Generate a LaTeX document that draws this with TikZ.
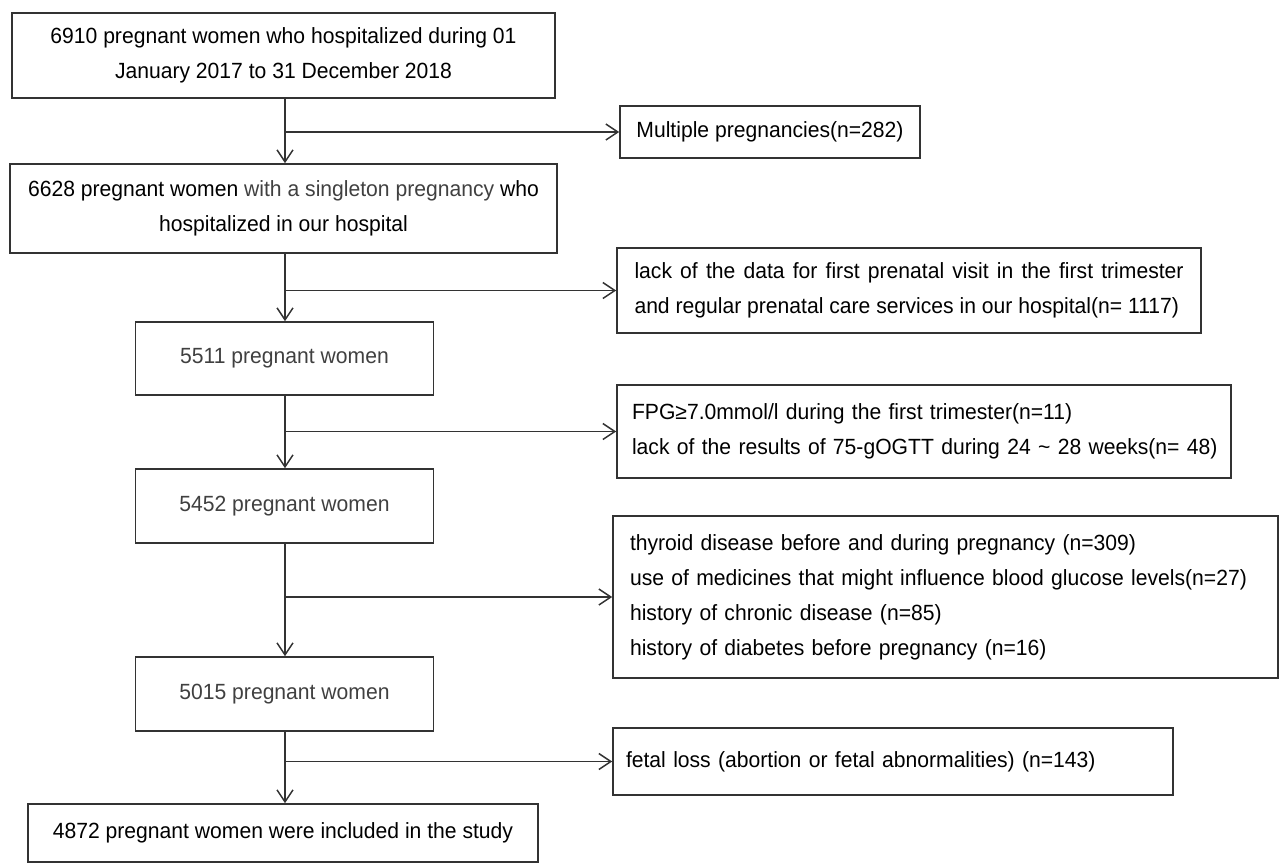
\documentclass[tikz,border=0pt]{standalone}
\usepackage{fontspec}
\setmainfont[FakeStretch=0.96]{Liberation Sans}
\usetikzlibrary{arrows.meta}
\definecolor{ln}{HTML}{333333}
\definecolor{gt}{HTML}{404040}
\tikzset{
  box/.style={draw=ln, line width=1.6pt, rectangle, inner sep=0pt, font=\fontsize{22}{35}\selectfont, text=black},
  cbox/.style={box, align=center},
  lbox/.style={box, align=left},
  arr/.style={draw=ln, line width=1.5pt, -{Straight Barb[length=12pt,width=16pt,line width=1.5pt]}},
}
\begin{document}
\begin{tikzpicture}[x=1pt,y=-1pt]
\useasboundingbox (0,0) rectangle (1279,863);
\coordinate (sp) at (285,0);
% main column
\node[cbox, minimum width=543pt, minimum height=85pt] (b1) at (283.5,55.5)
  {6910 pregnant women who hospitalized during 01\\January 2017 to 31 December 2018};
\node[cbox, minimum width=547pt, minimum height=89pt] (b2) at (283.5,208.5)
  {6628 pregnant women {\color{gt}with a singleton pregnancy} who\\hospitalized in our hospital};
\node[cbox, minimum width=298pt, minimum height=73pt, text=gt] (b3) at (284.5,358.5) {5511 pregnant women};
\node[cbox, minimum width=298pt, minimum height=74pt, text=gt] (b4) at (284.5,506) {5452 pregnant women};
\node[cbox, minimum width=298pt, minimum height=74pt, text=gt] (b5) at (284.5,694) {5015 pregnant women};
\node[cbox, minimum width=510pt, minimum height=58pt] (b6) at (283,833) {4872 pregnant women were included in the study};
% exclusion boxes
\node[cbox, minimum width=300pt, minimum height=52pt] (e1) at (770,132) {Multiple pregnancies(n=282)};
\node[lbox, inner xsep=15pt, minimum width=584pt, minimum height=85pt, text width=549pt, align=justify] (e2) at (909,290.5)
  {lack of the data for first prenatal visit in the first trimester\linebreak and regular prenatal care services in our hospital(n=~1117)};
\node[lbox, inner xsep=15pt, minimum width=614pt, minimum height=93pt, text width=584pt] (e3) at (924,431.5)
  {\mbox{FPG≥7.0mmol/l during the first trimester(n=11)}\\\mbox{lack of the results of 75-gOGTT during 24 \char126{} 28 weeks(n=\ 48)}};
\node[lbox, inner xsep=17pt, minimum width=665pt, minimum height=162pt, text width=631pt] (e4) at (945.5,597)
  {\mbox{thyroid disease before and during pregnancy (n=309)}\\\mbox{use of medicines that might influence blood glucose levels(n=27)}\\\mbox{history of chronic disease (n=85)}\\\mbox{history of diabetes before pregnancy (n=16)}};
\node[lbox, inner xsep=13pt, minimum width=560pt, minimum height=67pt, text width=534pt] (e5) at (893,761.5)
  {\mbox{fetal loss (abortion or fetal abnormalities) (n=143)}};
% spine arrows
\draw[arr] (b1.south -| sp) -- (b2.north -| sp);
\draw[arr] (b2.south -| sp) -- (b3.north -| sp);
\draw[arr] (b3.south -| sp) -- (b4.north -| sp);
\draw[arr] (b4.south -| sp) -- (b5.north -| sp);
\draw[arr] (b5.south -| sp) -- (b6.north -| sp);
% branch arrows
\draw[arr] (e1.west -| sp) -- (e1.west);
\draw[arr] (e2.west -| sp) -- (e2.west);
\draw[arr] (e3.west -| sp) -- (e3.west);
\draw[arr] (e4.west -| sp) -- (e4.west);
\draw[arr] (e5.west -| sp) -- (e5.west);
\end{tikzpicture}
\end{document}
